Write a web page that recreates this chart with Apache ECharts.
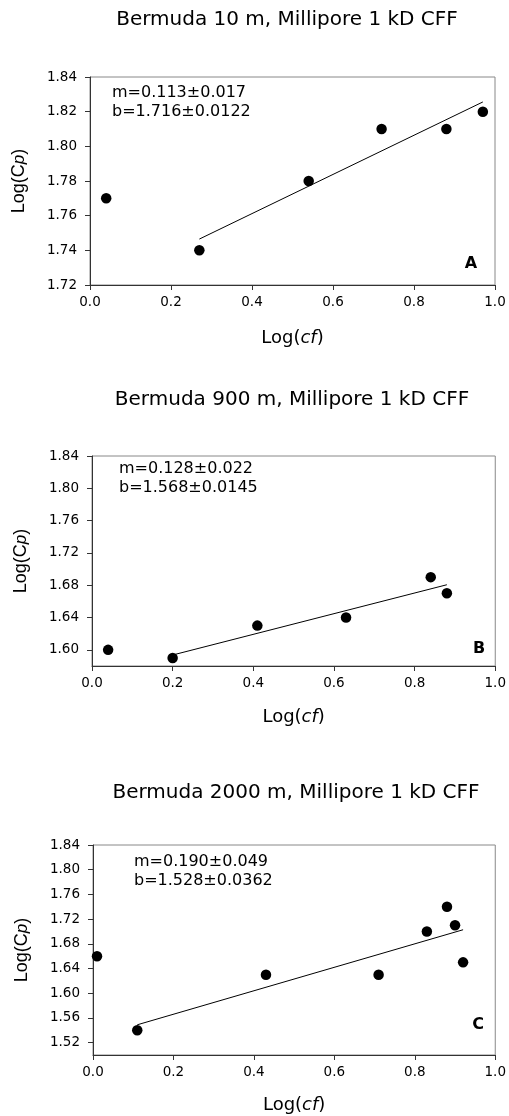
<!DOCTYPE html>
<html>
<head>
<meta charset="utf-8">
<script src="https://cdn.jsdelivr.net/npm/echarts@6/dist/echarts.min.js"></script>
<style>
  html, body { margin: 0; padding: 0; background: #fff; }
  #main { width: 509px; height: 1116px; }
</style>
</head>
<body>
<div id="main"></div>
<script>
// chart data
const titles = [
  'Bermuda 10 m, Millipore 1 kD CFF',
  'Bermuda 900 m, Millipore 1 kD CFF',
  'Bermuda 2000 m, Millipore 1 kD CFF'
];
const panelLetters = ['A', 'B', 'C'];
const fitLabels = [
  'm=0.113±0.017\nb=1.716±0.0122',
  'm=0.128±0.022\nb=1.568±0.0145',
  'm=0.190±0.049\nb=1.528±0.0362'
];
const xTicks = [0.0, 0.2, 0.4, 0.6, 0.8, 1.0];
const yTicksA = [1.72, 1.74, 1.76, 1.78, 1.80, 1.82, 1.84];
const yTicksB = [1.60, 1.64, 1.68, 1.72, 1.76, 1.80, 1.84];
const yTicksC = [1.52, 1.56, 1.60, 1.64, 1.68, 1.72, 1.76, 1.80, 1.84];
const yRanges = [[1.72, 1.84], [1.58, 1.84], [1.50, 1.84]];

const pointsA = [[0.04, 1.77], [0.27, 1.74], [0.54, 1.78], [0.72, 1.81], [0.88, 1.81], [0.97, 1.82]];
const pointsB = [[0.04, 1.60], [0.20, 1.59], [0.41, 1.63], [0.63, 1.64], [0.84, 1.69], [0.88, 1.67]];
const pointsC = [[0.01, 1.66], [0.11, 1.54], [0.43, 1.63], [0.71, 1.63], [0.83, 1.70], [0.88, 1.74], [0.90, 1.71], [0.92, 1.65]];

const fitA = [[0.27, 1.7465], [0.97, 1.8256]];
const fitB = [[0.20, 1.5936], [0.88, 1.6806]];
const fitC = [[0.11, 1.5489], [0.92, 1.7028]];

const yTicks = [yTicksA, yTicksB, yTicksC];
const points = [pointsA, pointsB, pointsC];
const fits = [fitA, fitB, fitC];

// layout
const grids = [
  { left: 90, top: 77, width: 405, height: 208 },
  { left: 92, top: 456, width: 405, height: 210 },
  { left: 93, top: 845, width: 405, height: 210 }
];
const titlePos = [[287, 20], [292, 400], [296, 793]];
const fitPos = [[112, 84], [119, 460], [134, 853]];
const letterPos = [[471, 264], [479, 649], [478, 1025]];
const xNameGap = [44, 42, 41];

const FONT = '"DejaVu Sans", sans-serif';
const ink = '#000';

const chart = echarts.init(document.getElementById('main'));

const option = {
  backgroundColor: '#fff',
  animation: false,
  grid: grids.map(g => ({
    ...g, show: true, borderColor: '#888', borderWidth: 1, backgroundColor: 'transparent'
  })),
  xAxis: grids.map((g, i) => ({
    type: 'value',
    gridIndex: i,
    min: 0, max: 1, interval: 0.2,
    name: 'Log({i|cf})',
    nameLocation: 'middle',
    nameGap: xNameGap[i],
    nameTextStyle: {
      fontFamily: FONT, fontSize: 18, color: ink,
      rich: { i: { fontFamily: FONT, fontSize: 18, fontStyle: 'italic', color: ink } }
    },
    axisLine: { show: true, lineStyle: { color: '#333', width: 1 } },
    axisTick: { show: true, inside: false, length: 5, lineStyle: { color: '#333' } },
    axisLabel: {
      margin: 10, fontFamily: FONT, fontSize: 13.5, color: ink,
      formatter: v => v.toFixed(1)
    },
    splitLine: { show: false }
  })),
  yAxis: grids.map((g, i) => ({
    type: 'value',
    gridIndex: i,
    min: yRanges[i][0], max: yRanges[i][1],
    name: 'Log(C{p|p})',
    nameLocation: 'middle',
    nameGap: 62,
    nameRotate: 90,
    nameTextStyle: {
      fontFamily: '"Liberation Sans", Arial, sans-serif', fontSize: 18, color: ink,
      rich: { p: { fontFamily: '"Liberation Sans", Arial, sans-serif', fontSize: 17, fontStyle: 'italic', color: ink } }
    },
    axisLine: { show: true, lineStyle: { color: '#333', width: 1 } },
    axisTick: { show: true, inside: false, length: 5, lineStyle: { color: '#333' }, customValues: yTicks[i] },
    axisLabel: {
      margin: 13, fontFamily: FONT, fontSize: 13.5, color: ink,
      customValues: yTicks[i],
      formatter: v => v.toFixed(2)
    },
    splitLine: { show: false }
  })),
  series: [].concat(...points.map((p, i) => [
    {
      type: 'scatter',
      xAxisIndex: i, yAxisIndex: i,
      data: p,
      symbol: 'circle',
      symbolSize: 10.5,
      itemStyle: { color: '#000', opacity: 1 },
      z: 3
    },
    {
      type: 'line',
      xAxisIndex: i, yAxisIndex: i,
      data: fits[i],
      showSymbol: false,
      symbol: 'none',
      lineStyle: { color: '#000', width: 1 },
      z: 2
    }
  ])),
  graphic: [].concat(
    titles.map((t, i) => ({
      type: 'text', x: titlePos[i][0], y: titlePos[i][1],
      style: { text: t, font: '20px ' + FONT, fill: ink, align: 'center', verticalAlign: 'middle' }
    })),
    fitLabels.map((t, i) => ({
      type: 'text', x: fitPos[i][0], y: fitPos[i][1],
      style: { text: t, font: '16px ' + FONT, lineHeight: 18.5, fill: ink, align: 'left', verticalAlign: 'top' }
    })),
    panelLetters.map((t, i) => ({
      type: 'text', x: letterPos[i][0], y: letterPos[i][1],
      style: { text: t, font: 'bold 16px ' + FONT, fill: ink, align: 'center', verticalAlign: 'middle' }
    }))
  )
};

chart.setOption(option);
</script>
</body>
</html>
